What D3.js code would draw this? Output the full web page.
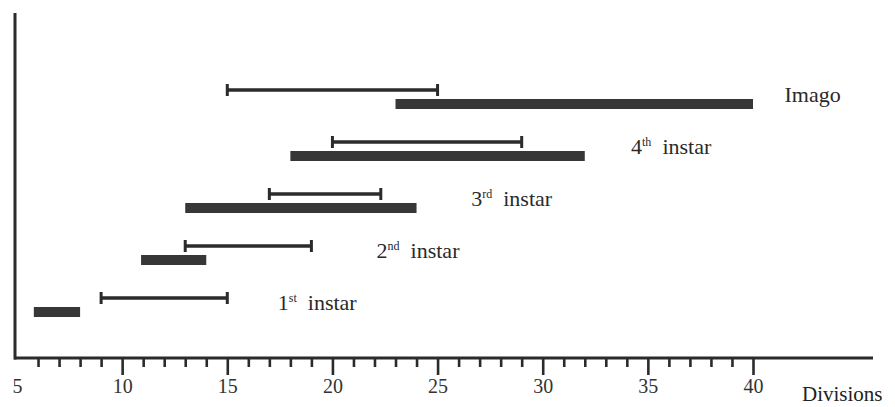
<!DOCTYPE html>
<html>
<head>
<meta charset="utf-8">
<script src="https://cdn.jsdelivr.net/npm/d3@7"></script>
</head>
<body style="margin:0">
<svg id="chart" width="895" height="407" font-family="&quot;Liberation Serif&quot;, serif"></svg>
<script>
// ---- data ----
const stages      = ["1", "2", "3", "4", "Imago"];
const stageSup    = ["st", "nd", "rd", "th", ""];
const stageWord   = ["instar", "instar", "instar", "instar", ""];
const rangeStart  = [9, 13, 17, 20, 15];
const rangeEnd    = [15, 19, 22.3, 29, 25];
const barStart    = [5.8, 10.9, 13, 18, 23];
const barEnd      = [8, 14, 24, 32, 40];
const labelAt     = [17.4, 22.1, 26.6, 34.2, 41.5];
const majorTicks  = [5, 10, 15, 20, 25, 30, 35, 40];
const minorTicks  = d3.range(6, 41);
const axisTitle   = "Divisions";

// ---- layout ----
const SERIF = "\"Liberation Serif\", serif";
const svg = d3.select("#chart");
const x = d3.scaleLinear().domain([5, 40]).range([17, 753]);
const y = d3.scaleLinear().domain([0, 4]).range([305, 97]);
const axisY = 358, axisLeft = 14, axisRight = 873, axisTop = 13;
const ink = "#2b2b2b";

// axes lines
svg.append("line").attr("x1", axisLeft + 1).attr("x2", axisLeft + 1)
  .attr("y1", axisTop).attr("y2", axisY + 1.5)
  .attr("stroke", ink).attr("stroke-width", 3);
svg.append("line").attr("x1", axisLeft).attr("x2", axisRight)
  .attr("y1", axisY).attr("y2", axisY)
  .attr("stroke", ink).attr("stroke-width", 3);

// ticks via d3 axis
const tickG = svg.append("g").attr("transform", `translate(0,${axisY})`);
const minorAxis = d3.axisBottom(x).tickValues(minorTicks.filter(v => v % 5 !== 0))
  .tickSize(9).tickFormat("");
const majorAxis = d3.axisBottom(x).tickValues(majorTicks).tickSize(17).tickPadding(4)
  .tickFormat(d3.format("d"));
const gMinor = tickG.append("g").call(minorAxis);
const gMajor = tickG.append("g").call(majorAxis);
[gMinor, gMajor].forEach(g => {
  g.select(".domain").remove();
  g.attr("font-family", SERIF);
  g.selectAll(".tick line").attr("stroke", ink).attr("stroke-width", 2.6);
});
gMajor.selectAll(".tick").filter(d => d === 5).select("line").remove();
gMajor.selectAll(".tick text")
  .attr("font-family", SERIF)
  .attr("font-size", 20).attr("fill", "#333").attr("y", 21);

svg.append("text").attr("x", 802).attr("y", 401)
  .attr("font-family", SERIF).attr("fill", "#222")
  .attr("font-size", 21).text(axisTitle);

// data rows
const rows = stages.map((s, i) => ({ i, s }));
const g = svg.append("g");
const capH = 12;

// thick bars
g.selectAll("rect.bar").data(rows).join("rect")
  .attr("class", "bar")
  .attr("x", d => x(barStart[d.i]))
  .attr("width", d => x(barEnd[d.i]) - x(barStart[d.i]))
  .attr("y", d => y(d.i) + 7 - 5)
  .attr("height", 10)
  .attr("fill", "#373737");

// range lines
g.selectAll("line.rng").data(rows).join("line")
  .attr("class", "rng")
  .attr("x1", d => x(rangeStart[d.i])).attr("x2", d => x(rangeEnd[d.i]))
  .attr("y1", d => y(d.i) - 7).attr("y2", d => y(d.i) - 7)
  .attr("stroke", ink).attr("stroke-width", 3.5);
["s", "e"].forEach(k => {
  g.selectAll("line.cap" + k).data(rows).join("line")
    .attr("class", "cap" + k)
    .attr("x1", d => x(k === "s" ? rangeStart[d.i] : rangeEnd[d.i]))
    .attr("x2", d => x(k === "s" ? rangeStart[d.i] : rangeEnd[d.i]))
    .attr("y1", d => y(d.i) - 7 - capH / 2).attr("y2", d => y(d.i) - 7 + capH / 2)
    .attr("stroke", ink).attr("stroke-width", 3);
});

// labels
const lab = g.selectAll("text.lab").data(rows).join("text")
  .attr("class", "lab")
  .attr("font-family", SERIF)
  .attr("fill", "#2a2a2a")
  .attr("x", d => x(labelAt[d.i]))
  .attr("y", d => y(d.i) + 5)
  .attr("font-size", 22);
lab.append("tspan").text(d => stages[d.i]);
lab.append("tspan").attr("font-size", 12).attr("dy", -8).text(d => stageSup[d.i]);
lab.append("tspan").attr("dy", 8).text(d => stageWord[d.i] ? "\u00a0\u00a0" + stageWord[d.i] : "");
</script>
</body>
</html>
